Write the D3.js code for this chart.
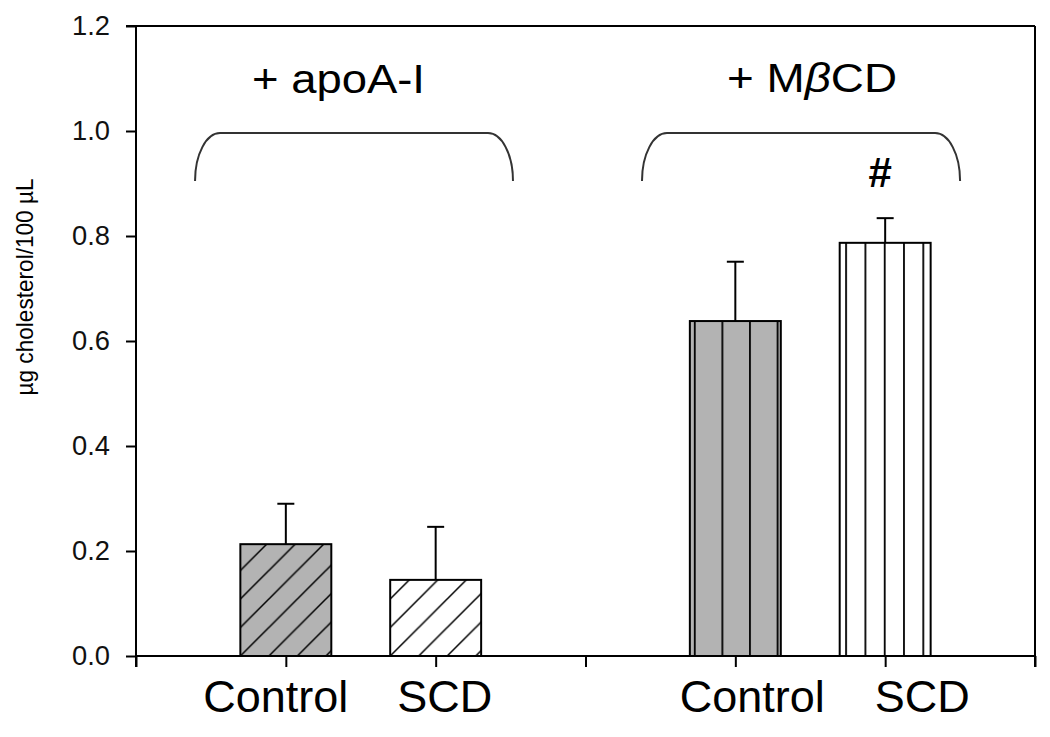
<!DOCTYPE html>
<html>
<head>
<meta charset="utf-8">
<script src="https://cdn.jsdelivr.net/npm/d3@7"></script>
<style>
  html, body { margin: 0; padding: 0; background: #fff; }
  svg { display: block; font-family: "Liberation Sans", Arial, sans-serif; }
</style>
</head>
<body>
<svg id="chart" width="1050" height="737"></svg>
<script>
// ---- data ----
const groups = ["+ apoA-I", "+ M\u03B2CD"];
const categories = ["Control", "SCD", "Control", "SCD"];
const categoryGroup = [0, 0, 1, 1];
const categoryPos = [1, 2, 4, 5];
const means = [0.213, 0.145, 0.638, 0.787];
const errorsUp = [0.077, 0.101, 0.113, 0.047];
const significance = ["", "", "", "#"];
const yTicks = [0.0, 0.2, 0.4, 0.6, 0.8, 1.0, 1.2];
const yLabel = "\u00B5g cholesterol/100 \u00B5L";

// ---- layout ----
const svg = d3.select("#chart");
const x = d3.scaleLinear().domain([0, 6]).range([136, 1035]);
const y = d3.scaleLinear().domain([0, 1.2]).range([656, 26]);
const barW = 0.607;
const labelShift = [-10, 9, 17, 37];
const bracketSpan = [[0.394, 2.516], [3.377, 5.5]];
const bracketTop = 0.996, bracketBottom = 0.905;
const patternKinds = ["diagGray", "diagWhite", "vertGray", "vertWhite"];

// ---- patterns ----
const defs = svg.append("defs");
function diagPattern(id, fill, bx) {
  const s = 28.5;
  const p = defs.append("pattern").attr("id", id)
    .attr("patternUnits", "userSpaceOnUse")
    .attr("width", s).attr("height", s)
    .attr("x", bx).attr("y", y(0));
  p.append("rect").attr("width", s).attr("height", s).attr("fill", fill);
  p.append("path").attr("d", `M-2,${s+2}L${s+2},-2M${-s/4},${s/4}L${s/4},${-s/4}M${s-s/4},${s+s/4}L${s+s/4},${s-s/4}`)
    .attr("stroke", "#000").attr("stroke-width", 1.5);
}
function vertPattern(id, fill, bx, s, off) {
  const p = defs.append("pattern").attr("id", id)
    .attr("patternUnits", "userSpaceOnUse")
    .attr("width", s).attr("height", 40)
    .attr("x", bx + off).attr("y", 0);
  p.append("rect").attr("width", s).attr("height", 40).attr("fill", fill);
  p.append("line").attr("x1", 0.9).attr("x2", 0.9).attr("y1", 0).attr("y2", 40)
    .attr("stroke", "#000").attr("stroke-width", 1.8);
}
const barLeft = i => x(categoryPos[i] - barW / 2);
diagPattern("diagGray", "#b3b3b3", barLeft(0));
diagPattern("diagWhite", "#ffffff", barLeft(1));
vertPattern("vertGray", "#b3b3b3", barLeft(2), 27.6, 4);
vertPattern("vertWhite", "#ffffff", barLeft(3), 19.3, 5.5);

// ---- frame: top and right ----
svg.append("line").attr("x1", 126).attr("x2", x(6)).attr("y1", y(1.2)).attr("y2", y(1.2))
  .attr("stroke", "#000").attr("stroke-width", 2);
svg.append("line").attr("x1", x(6)).attr("x2", x(6)).attr("y1", y(1.2)).attr("y2", y(0) + 11)
  .attr("stroke", "#000").attr("stroke-width", 2);

// ---- bars ----
const idx = d3.range(means.length);
svg.append("g").selectAll("rect").data(idx).join("rect")
  .attr("x", i => barLeft(i))
  .attr("width", i => x(barW) - x(0))
  .attr("y", i => y(means[i]))
  .attr("height", i => y(0) - y(means[i]))
  .attr("fill", i => `url(#${patternKinds[i]})`)
  .attr("stroke", "#000").attr("stroke-width", 2);

// ---- error bars ----
const eg = svg.append("g").attr("stroke", "#000").attr("stroke-width", 2);
eg.selectAll("line.v").data(idx).join("line").attr("class", "v")
  .attr("x1", i => x(categoryPos[i])).attr("x2", i => x(categoryPos[i]))
  .attr("y1", i => y(means[i])).attr("y2", i => y(means[i] + errorsUp[i]));
eg.selectAll("line.c").data(idx).join("line").attr("class", "c")
  .attr("x1", i => x(categoryPos[i]) - 8.5).attr("x2", i => x(categoryPos[i]) + 8.5)
  .attr("y1", i => y(means[i] + errorsUp[i])).attr("y2", i => y(means[i] + errorsUp[i]));

// ---- axes ----
const yAxis = d3.axisLeft(y).tickValues(yTicks).tickFormat(d3.format(".1f")).tickSize(10).tickPadding(16);
const gy = svg.append("g").attr("transform", `translate(${x(0)},0)`).call(yAxis);
gy.select(".domain").remove();
gy.append("line").attr("x1", 0).attr("x2", 0).attr("y1", y(1.2)).attr("y2", y(0) + 11)
  .attr("stroke", "#000").attr("stroke-width", 2);
gy.selectAll(".tick line").attr("stroke", "#000").attr("stroke-width", 2);
gy.selectAll(".tick text").attr("font-size", 28).attr("fill", "#111")
  .attr("font-family", "'Liberation Sans', Arial, sans-serif")
  .attr("textLength", 38).attr("lengthAdjust", "spacingAndGlyphs");

const xAxis = d3.axisBottom(x).tickValues(d3.range(0, 7)).tickSize(11).tickFormat("");
const gx = svg.append("g").attr("transform", `translate(0,${y(0)})`).call(xAxis);
gx.select(".domain").remove();
gx.append("line").attr("x1", x(0)).attr("x2", x(6)).attr("y1", 0).attr("y2", 0)
  .attr("stroke", "#000").attr("stroke-width", 2);
gx.selectAll(".tick line").attr("stroke", "#000").attr("stroke-width", 2);

// category labels
svg.append("g").selectAll("text").data(idx).join("text")
  .attr("x", i => x(categoryPos[i]) + labelShift[i])
  .attr("y", 712)
  .attr("text-anchor", "middle")
  .attr("font-size", 45)
  .attr("fill", "#000")
  .text(i => categories[i]);

// y label
svg.append("text")
  .attr("transform", `translate(33,287) rotate(-90)`)
  .attr("text-anchor", "middle")
  .attr("font-size", 24)
  .attr("textLength", 217).attr("lengthAdjust", "spacingAndGlyphs")
  .attr("fill", "#000")
  .text(yLabel);

// ---- group brackets ----
const bg = svg.append("g").attr("fill", "none").attr("stroke", "#333").attr("stroke-width", 2);
bracketSpan.forEach(([a, b]) => {
  const x0 = x(a), x1 = x(b), yt = y(bracketTop), yb = y(bracketBottom);
  const rx = 25, ry = yb - yt;
  bg.append("path").attr("d",
    `M${x0},${yb}A${rx},${ry} 0 0 1 ${x0 + rx},${yt}L${x1 - rx},${yt}A${rx},${ry} 0 0 1 ${x1},${yb}`);
});

// group labels
svg.append("text").attr("x", 252).attr("y", 93).attr("font-size", 40).attr("fill", "#000")
  .attr("textLength", 173).attr("lengthAdjust", "spacingAndGlyphs")
  .text(groups[0]);
const gl2 = svg.append("text").attr("x", 727).attr("y", 92).attr("font-size", 40).attr("fill", "#000")
  .attr("textLength", 170).attr("lengthAdjust", "spacingAndGlyphs");
gl2.append("tspan").text("+ M");
gl2.append("tspan").attr("font-style", "italic").text("\u03B2");
gl2.append("tspan").text("CD");

// significance marks
svg.append("g").selectAll("text").data(idx.filter(i => significance[i])).join("text")
  .attr("x", i => x(categoryPos[i]) - 5)
  .attr("y", 187)
  .attr("text-anchor", "middle")
  .attr("font-size", 42)
  .attr("font-weight", "bold")
  .attr("fill", "#000")
  .text(i => significance[i]);
</script>
</body>
</html>
